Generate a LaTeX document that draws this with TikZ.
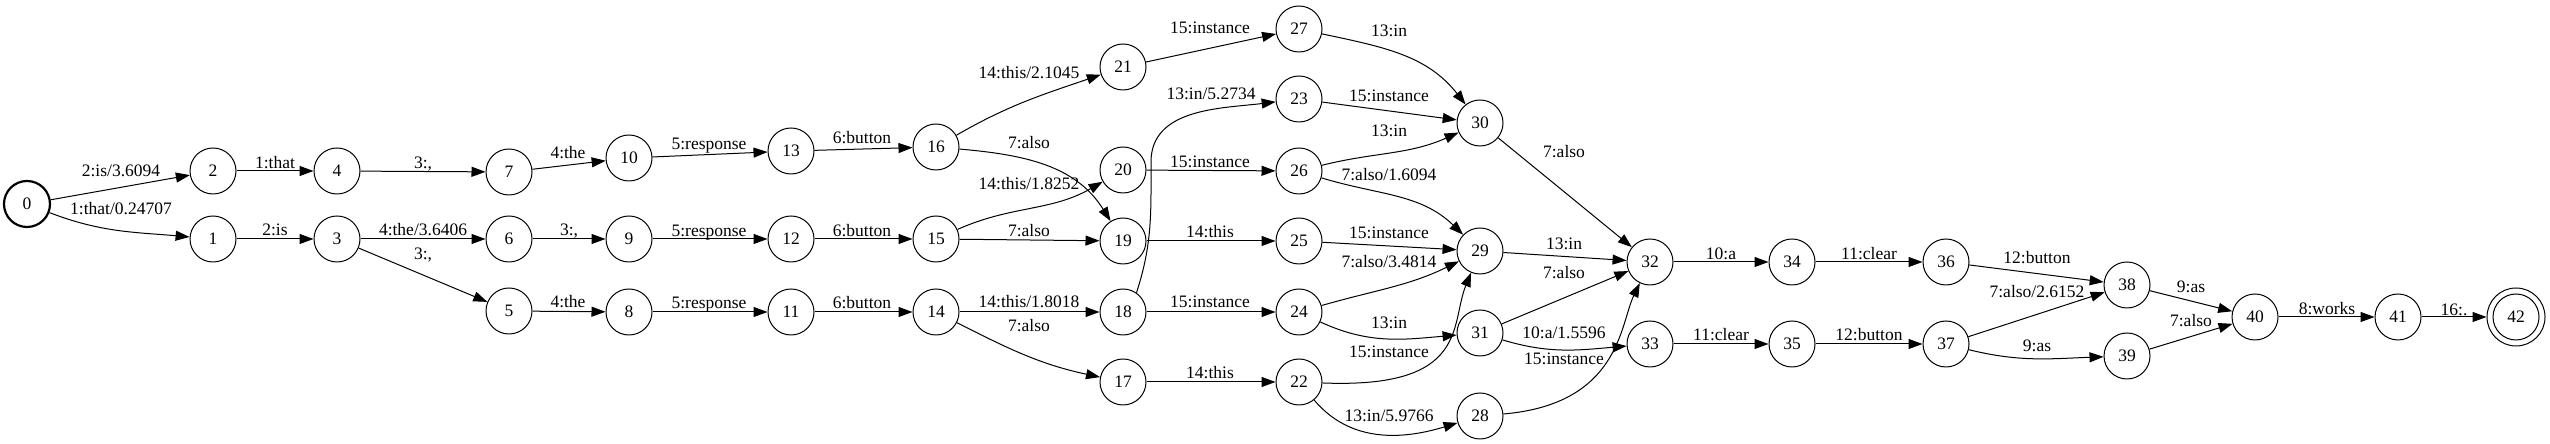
\documentclass[tikz,border=0pt]{standalone}
\usepackage{fontspec}
\setmainfont{Liberation Serif}
\usetikzlibrary{arrows.meta}
\begin{document}
\begin{tikzpicture}[x=1bp,y=1bp,
  st/.style={circle,draw,line width=1bp,minimum size=46bp,inner sep=0pt,font=\fontsize{17.5bp}{20bp}\selectfont},
  init/.style={st,line width=2.2bp},
  fin/.style={st,minimum size=58bp},
  e/.style={-{Triangle[length=14bp,width=10bp]},line width=1bp},
  lbl/.style={anchor=base,inner sep=0pt,font=\fontsize{17.5bp}{20bp}\selectfont}]
\useasboundingbox (0,0) rectangle (2550,444);
% states
\node[init] (n0) at (27,240) {0};
\node[st] (n2) at (213,273) {2};
\node[st] (n4) at (337,273) {4};
\node[st] (n1) at (213,205) {1};
\node[st] (n3) at (337,205) {3};
\node[st] (n7) at (509,272) {7};
\node[st] (n10) at (629,286) {10};
\node[st] (n13) at (791,293) {13};
\node[st] (n6) at (509,205) {6};
\node[st] (n9) at (629,205) {9};
\node[st] (n12) at (791,205) {12};
\node[st] (n5) at (509,133) {5};
\node[st] (n8) at (629,132) {8};
\node[st] (n11) at (791,132) {11};
\node[st] (n16) at (936,297) {16};
\node[st] (n15) at (936,205) {15};
\node[st] (n14) at (936,132) {14};
\node[st] (n21) at (1123,377) {21};
\node[st] (n20) at (1123,274) {20};
\node[st] (n19) at (1123,203) {19};
\node[st] (n18) at (1123,132) {18};
\node[st] (n17) at (1123,62) {17};
\node[st] (n27) at (1299,415) {27};
\node[st] (n23) at (1299,345) {23};
\node[st] (n26) at (1299,273) {26};
\node[st] (n25) at (1299,203) {25};
\node[st] (n24) at (1299,132) {24};
\node[st] (n22) at (1299,62) {22};
\node[st] (n30) at (1480,321) {30};
\node[st] (n29) at (1480,193) {29};
\node[st] (n31) at (1480,111) {31};
\node[st] (n28) at (1480,28) {28};
\node[st] (n32) at (1650,182) {32};
\node[st] (n33) at (1650,100) {33};
\node[st] (n34) at (1792,182) {34};
\node[st] (n36) at (1946,182) {36};
\node[st] (n35) at (1792,100) {35};
\node[st] (n37) at (1946,100) {37};
\node[st] (n38) at (2127,159) {38};
\node[st] (n39) at (2127,88) {39};
\node[st] (n40) at (2255,127) {40};
\node[st] (n41) at (2398,127) {41};
\node[fin] (n42) at (2516,127) {42};
\draw[line width=1bp] (n42.center) circle (23bp);
\coordinate (k18) at (1151,282);
% transitions
\draw[e] (n0) -- (n2);
\draw[e] (n0) to[out=-21,in=175] (n1);
\draw[e] (n2) -- (n4);
\draw[e] (n1) -- (n3);
\draw[e] (n4) -- (n7);
\draw[e] (n3) -- (n6);
\draw[e] (n3) -- (n5);
\draw[e] (n7) -- (n10);
\draw[e] (n6) -- (n9);
\draw[e] (n5) -- (n8);
\draw[e] (n10) -- (n13);
\draw[e] (n9) -- (n12);
\draw[e] (n8) -- (n11);
\draw[e] (n13) -- (n16);
\draw[e] (n12) -- (n15);
\draw[e] (n11) -- (n14);
\draw[e] (n16) to[out=30,in=199] (n21);
\draw[e] (n16) to[out=-5,in=122] (n19);
\draw[e] (n15) to[out=24,in=210] (n20);
\draw[e] (n15) -- (n19);
\draw[e] (n14) -- (n18);
\draw[e] (n14) to[out=-27,in=168] (n17);
\draw[e] (n21) -- (n27);
\draw[e] (n18.55) to[out=72,in=270] (k18) to[out=90,in=187] (n23);
\draw[e] (n20) -- (n26);
\draw[e] (n19) -- (n25);
\draw[e] (n18) -- (n24);
\draw[e] (n17) -- (n22);
\draw[e] (n27) to[out=-12,in=128] (n30);
\draw[e] (n23) -- (n30);
\draw[e] (n26) to[out=14,in=204] (n30);
\draw[e] (n26) to[out=-17,in=136] (n29);
\draw[e] (n25) -- (n29);
\draw[e] (n24) to[out=16,in=206] (n29);
\draw[e] (n24) to[out=-25,in=185] (n31);
\draw[e] (n22) .. controls (1470,55) and (1450,120) .. (n29);
\draw[e] (n22) to[out=-50,in=197] (n28);
\draw[e] (n30) -- (n32);
\draw[e] (n29) -- (n32);
\draw[e] (n31) -- (n32);
\draw[e] (n31) to[out=-17,in=185] (n33);
\draw[e] (n28) .. controls (1620,40) and (1620,120) .. (n32);
\draw[e] (n32) -- (n34);
\draw[e] (n33) -- (n35);
\draw[e] (n34) -- (n36);
\draw[e] (n35) -- (n37);
\draw[e] (n36) -- (n38);
\draw[e] (n37) -- (n38);
\draw[e] (n37) to[out=-14,in=182] (n39);
\draw[e] (n38) -- (n40);
\draw[e] (n39) -- (n40);
\draw[e] (n40) -- (n41);
\draw[e] (n41) -- (n42);
% labels
\node[lbl] (l1) at (121,267) {2:is/3.6094};
\node[lbl] (l2) at (121,229) {1:that/0.24707};
\node[lbl] (l3) at (275,275) {1:that};
\node[lbl] (l4) at (275,208) {2:is};
\node[lbl] (l5) at (423,275) {3:,};
\node[lbl] (l6) at (423,208) {4:the/3.6406};
\node[lbl] (l7) at (423,184) {3:,};
\node[lbl] (l8) at (568,285) {4:the};
\node[lbl] (l9) at (569,208) {3:,};
\node[lbl] (l10) at (568,136) {4:the};
\node[lbl] (l11) at (709,294) {5:response};
\node[lbl] (l12) at (709,207) {5:response};
\node[lbl] (l13) at (709,135) {5:response};
\node[lbl] (l14) at (862,300) {6:button};
\node[lbl] (l15) at (862,207) {6:button};
\node[lbl] (l16) at (862,135) {6:button};
\node[lbl] (l17) at (1029,365) {14:this/2.1045};
\node[lbl] (l18) at (1029,295) {7:also};
\node[lbl] (l19) at (1029,254) {14:this/1.8252};
\node[lbl] (l20) at (1029,207) {7:also};
\node[lbl] (l21) at (1029,136) {14:this/1.8018};
\node[lbl] (l22) at (1029,112) {7:also};
\node[lbl] (l23) at (1210,410) {15:instance};
\node[lbl] (l24) at (1211,344) {13:in/5.2734};
\node[lbl] (l25) at (1210,276) {15:instance};
\node[lbl] (l26) at (1210,206) {14:this};
\node[lbl] (l27) at (1210,136) {15:instance};
\node[lbl] (l28) at (1210,65) {14:this};
\node[lbl] (l29) at (1389,407) {13:in};
\node[lbl] (l30) at (1389,342) {15:instance};
\node[lbl] (l31) at (1389,307) {13:in};
\node[lbl] (l32) at (1389,263) {7:also/1.6094};
\node[lbl] (l33) at (1389,205) {15:instance};
\node[lbl] (l34) at (1389,176) {7:also/3.4814};
\node[lbl] (l35) at (1389,115) {13:in};
\node[lbl] (l36) at (1389,86) {15:instance};
\node[lbl] (l37) at (1389,22) {13:in/5.9766};
\node[lbl] (l38) at (1564,286) {7:also};
\node[lbl] (l39) at (1564,194) {13:in};
\node[lbl] (l40) at (1564,165) {7:also};
\node[lbl] (l41) at (1564,105) {10:a/1.5596};
\node[lbl] (l42) at (1564,79) {15:instance};
\node[lbl] (l43) at (1721,184) {10:a};
\node[lbl] (l44) at (1721,103) {11:clear};
\node[lbl] (l45) at (1869,184) {11:clear};
\node[lbl] (l46) at (1869,103) {12:button};
\node[lbl] (l47) at (2037,180) {12:button};
\node[lbl] (l48) at (2037,146) {7:also/2.6152};
\node[lbl] (l49) at (2037,92) {9:as};
\node[lbl] (l50) at (2191,151) {9:as};
\node[lbl] (l51) at (2191,117) {7:also};
\node[lbl] (l52) at (2327,129) {8:works};
\node[lbl] (l53) at (2454,128) {16:.};
\end{tikzpicture}
\end{document}
